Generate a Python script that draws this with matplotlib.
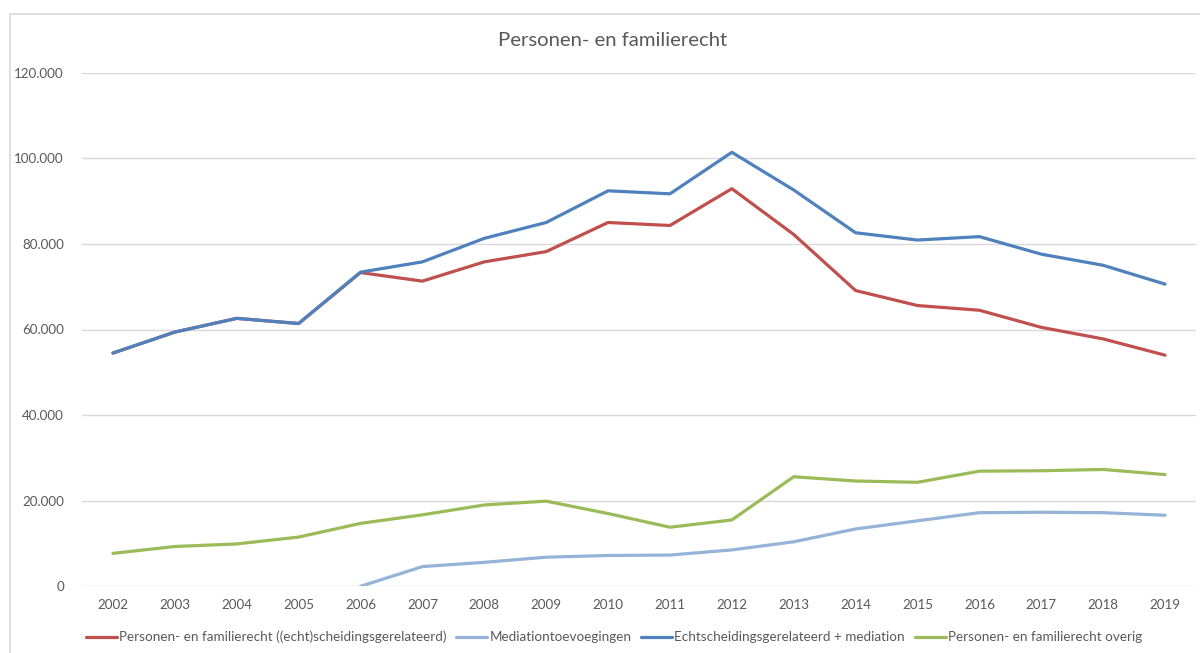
import numpy as np
import matplotlib.pyplot as plt
from matplotlib.patches import Rectangle

years = [str(y) for y in range(2002, 2020)]

scheiding = [54500, 59400, 62600, 61400, 73300, 71300, 75800, 78200, 85000,
             84300, 92900, 82200, 69100, 65600, 64500, 60500, 57800, 54000]
mediation = [np.nan, np.nan, np.nan, np.nan, 0, 4600, 5600, 6800, 7200,
             7300, 8500, 10400, 13400, 15300, 17200, 17300, 17200, 16600]
scheiding_med = [54500, 59400, 62600, 61400, 73400, 75800, 81300, 85000, 92400,
                 91700, 101400, 92600, 82600, 80900, 81700, 77600, 75000, 70600]
overig = [7700, 9300, 9900, 11500, 14700, 16700, 19000, 19900, 17000,
          13800, 15500, 25600, 24600, 24300, 26900, 27000, 27300, 26100]

labels = ["Personen- en familierecht ((echt)scheidingsgerelateerd)",
          "Mediationtoevoegingen",
          "Echtscheidingsgerelateerd + mediation",
          "Personen- en familierecht overig"]
colors = ["#C0504D", "#95B3D7", "#4F81BD", "#9BBB59"]

plt.rcParams['font.family'] = ['Lato', 'DejaVu Sans']
txt = "#595959"

W, H = 1200, 653
fig = plt.figure(figsize=(W / 100, H / 100), dpi=100)
ax = fig.add_axes([82 / W, 1 - 586.3 / H, (1196 - 82) / W, (586.3 - 72.7) / H])

# chart border (right and bottom edges fall outside the picture)
fig.patches.append(Rectangle((10 / W, -0.1), 1.2, 1 - 13.7 / H + 0.1,
                             transform=fig.transFigure, fill=False,
                             edgecolor="#D9D9D9", lw=1.2))

x = np.arange(len(years))
for data, lab, col in zip([scheiding, mediation, scheiding_med, overig], labels, colors):
    ax.plot(x, data, color=col, lw=2.3, label=lab, solid_capstyle='round')

ax.set_xlim(-0.5, len(years) - 0.5)
ax.set_ylim(0, 120000)
ax.set_yticks(range(0, 120001, 20000))
ax.set_yticklabels(["0"] + ["{:,}".format(v).replace(",", ".") for v in range(20000, 120001, 20000)])
ax.set_xticks(x)
ax.set_xticklabels(years)
ax.tick_params(axis='both', length=0, labelsize=9.6, colors=txt)
ax.tick_params(axis='y', pad=13)
ax.tick_params(axis='x', pad=9)
ax.grid(axis='y', color="#D9D9D9", lw=1)
ax.set_axisbelow(True)
for s in ax.spines.values():
    s.set_visible(False)

fig.text(613 / W, 1 - 41 / H, "Personen- en familierecht", ha='center', va='center',
         fontsize=14.6, color=txt)

fig.legend(loc='center', bbox_to_anchor=(614 / W, 1 - 637 / H), ncol=4, frameon=False,
           fontsize=9.7, labelcolor=txt, handlelength=2.3, handletextpad=0.15,
           columnspacing=0.75)

fig.savefig("out.png", dpi=100)
